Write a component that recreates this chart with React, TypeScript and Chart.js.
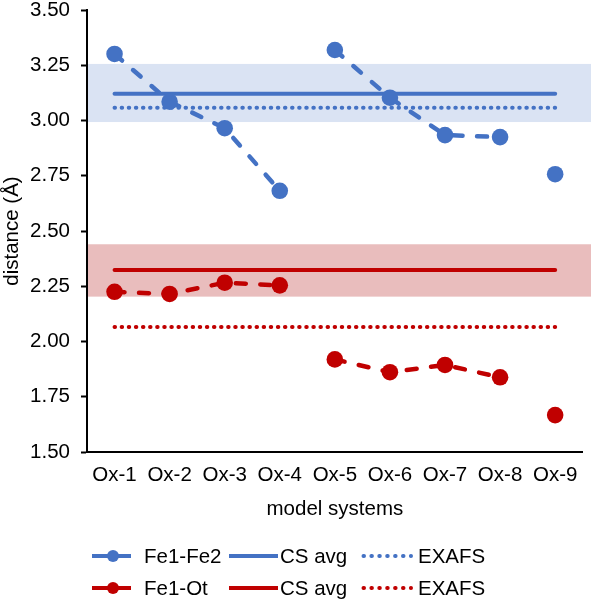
import { useEffect, useRef } from "react";
import { Chart, registerables } from "chart.js";

Chart.register(...registerables);

// ---------- data ----------
const categories = ["Ox-1", "Ox-2", "Ox-3", "Ox-4", "Ox-5", "Ox-6", "Ox-7", "Ox-8", "Ox-9"];
const fe1Fe2 = [3.301, 3.085, 2.965, 2.682, 3.319, 3.103, 2.934, 2.925, 2.757];
const fe1Ot = [2.225, 2.215, 2.266, 2.254, 1.919, 1.861, 1.894, 1.838, 1.667];
const fe1Fe2CsAvg = [3.121, 3.121, 3.121, 3.121, 3.121, 3.121, 3.121, 3.121, 3.121];
const fe1Fe2Exafs = [3.058, 3.058, 3.058, 3.058, 3.058, 3.058, 3.058, 3.058, 3.058];
const fe1OtCsAvg = [2.324, 2.324, 2.324, 2.324, 2.324, 2.324, 2.324, 2.324, 2.324];
const fe1OtExafs = [2.066, 2.066, 2.066, 2.066, 2.066, 2.066, 2.066, 2.066, 2.066];
const fe1Fe2Band = [2.993, 3.256];
const fe1OtBand = [2.203, 2.44];
const yTickValues = [1.5, 1.75, 2.0, 2.25, 2.5, 2.75, 3.0, 3.25, 3.5];
const groupBreaks = [3, 7]; // no connector after these indices

const BLUE = "#4472C4";
const RED = "#C00000";
const BLUE_BAND = "rgb(218,227,243)";
const RED_BAND = "rgb(233,189,189)";
const FONT = "'Liberation Sans', Arial, sans-serif";
const FONT_SIZE = 20.5;

const legendRows = [
  { label: "Fe1-Fe2", color: BLUE },
  { label: "Fe1-Ot", color: RED },
];

const bandPlugin = {
  id: "bands",
  beforeDatasetsDraw(chart: any) {
    const { ctx, chartArea, scales } = chart;
    const y = scales.y;
    const draw = (band: number[], color: string) => {
      const top = y.getPixelForValue(band[1]);
      const bot = y.getPixelForValue(band[0]);
      ctx.save();
      ctx.fillStyle = color;
      ctx.fillRect(chartArea.left + 1, top, chart.width - chartArea.left - 1, bot - top);
      ctx.restore();
    };
    draw(fe1Fe2Band, BLUE_BAND);
    draw(fe1OtBand, RED_BAND);
  },
};

const legendPlugin = {
  id: "customLegend",
  afterDraw(chart: any) {
    const { ctx } = chart;
    const rowY = [556, 588];
    ctx.save();
    ctx.font = `${FONT_SIZE}px ${FONT}`;
    ctx.textBaseline = "middle";
    ctx.textAlign = "left";
    legendRows.forEach((row, i) => {
      const yy = rowY[i];
      // series sample
      ctx.strokeStyle = row.color;
      ctx.fillStyle = row.color;
      ctx.lineWidth = 4;
      ctx.setLineDash([]);
      ctx.lineCap = "butt";
      ctx.beginPath();
      ctx.moveTo(92, yy);
      ctx.lineTo(131, yy);
      ctx.stroke();
      ctx.beginPath();
      ctx.arc(113, yy, 6, 0, Math.PI * 2);
      ctx.fill();
      // solid sample
      ctx.lineWidth = 4;
      ctx.beginPath();
      ctx.moveTo(229, yy);
      ctx.lineTo(278, yy);
      ctx.stroke();
      // dotted sample
      ctx.lineCap = "round";
      ctx.lineWidth = 4;
      ctx.setLineDash([0.5, 7.4]);
      ctx.beginPath();
      ctx.moveTo(363.5, yy);
      ctx.lineTo(411, yy);
      ctx.stroke();
      ctx.setLineDash([]);
      // texts
      ctx.fillStyle = "#000";
      ctx.fillText(row.label, 144, yy + 1);
      ctx.fillText("CS avg", 280, yy + 1);
      ctx.fillText("EXAFS", 418, yy + 1);
    });
    ctx.restore();
  },
};

const gapSegment = (color: string) => ({
  borderColor: (c: any) => (groupBreaks.includes(c.p0DataIndex) ? "rgba(0,0,0,0)" : color),
});

export default function App() {
  const ref = useRef<HTMLCanvasElement | null>(null);

  useEffect(() => {
    if (!ref.current) return;
    const chart = new Chart(ref.current, {
      type: "line",
      data: {
        labels: categories,
        datasets: [
          {
            label: "Fe1-Fe2",
            data: fe1Fe2,
            borderColor: BLUE,
            backgroundColor: BLUE,
            borderWidth: 4.5,
            borderDash: [10, 14.5],
            borderCapStyle: "round",
            pointRadius: 8.3,
            pointBorderWidth: 0,
            pointBackgroundColor: BLUE,
            segment: gapSegment(BLUE),
          },
          {
            label: "Fe1-Ot",
            data: fe1Ot,
            borderColor: RED,
            backgroundColor: RED,
            borderWidth: 4.5,
            borderDash: [10, 14.5],
            borderCapStyle: "round",
            pointRadius: 8.3,
            pointBorderWidth: 0,
            pointBackgroundColor: RED,
            segment: gapSegment(RED),
          },
          {
            label: "CS avg",
            data: fe1Fe2CsAvg,
            borderColor: BLUE,
            borderWidth: 4,
            borderCapStyle: "round",
            pointRadius: 0,
          },
          {
            label: "EXAFS",
            data: fe1Fe2Exafs,
            borderColor: BLUE,
            borderWidth: 4,
            borderDash: [0.5, 6.6],
            borderCapStyle: "round",
            pointRadius: 0,
          },
          {
            label: "CS avg",
            data: fe1OtCsAvg,
            borderColor: RED,
            borderWidth: 4,
            borderCapStyle: "round",
            pointRadius: 0,
          },
          {
            label: "EXAFS",
            data: fe1OtExafs,
            borderColor: RED,
            borderWidth: 4,
            borderDash: [0.5, 6.6],
            borderCapStyle: "round",
            pointRadius: 0,
          },
        ],
      },
      options: {
        animation: false,
        responsive: false,
        devicePixelRatio: 1,
        layout: { padding: { top: 10, right: 4, bottom: 80, left: 0 } },
        plugins: {
          legend: { display: false },
          tooltip: { enabled: false },
        },
        scales: {
          x: {
            type: "category",
            offset: true,
            grid: { display: false, drawTicks: false, drawOnChartArea: false },
            border: { display: true, color: "#000", width: 2 },
            ticks: {
              color: "#000",
              padding: 11,
              maxRotation: 0,
              autoSkip: false,
              font: { family: FONT, size: FONT_SIZE },
            },
            title: {
              display: true,
              text: "model systems",
              color: "#000",
              padding: 0,
              font: { family: FONT, size: FONT_SIZE },
            },
            afterFit: (s: any) => {
              s.height = 70;
              s.paddingLeft = 0;
              s.paddingRight = 0;
            },
          },
          y: {
            min: 1.5,
            max: 3.5,
            afterBuildTicks: (s: any) => {
              s.ticks = yTickValues.map((v) => ({ value: v }));
            },
            grid: {
              display: true,
              drawOnChartArea: false,
              drawTicks: true,
              tickLength: 6,
              tickColor: "#000",
              tickWidth: 2,
              color: "#000",
            },
            border: { display: true, color: "#000", width: 2 },
            ticks: {
              color: "#000",
              padding: 11,
              font: { family: FONT, size: FONT_SIZE },
              callback: (v: any) => Number(v).toFixed(2),
            },
            title: {
              display: true,
              text: "distance (Å)",
              color: "#000",
              padding: 0,
              font: { family: FONT, size: FONT_SIZE },
            },
            afterFit: (s: any) => {
              s.width = 87;
              s.paddingTop = 0;
              s.paddingBottom = 0;
            },
          },
        },
      },
      plugins: [bandPlugin, legendPlugin],
    } as any);
    return () => chart.destroy();
  }, []);

  return (
    <div style={{ position: "absolute", left: 0, top: 0, width: 591, height: 602, background: "#fff" }}>
      <canvas ref={ref} width={591} height={602} style={{ width: 591, height: 602 }} />
    </div>
  );
}
